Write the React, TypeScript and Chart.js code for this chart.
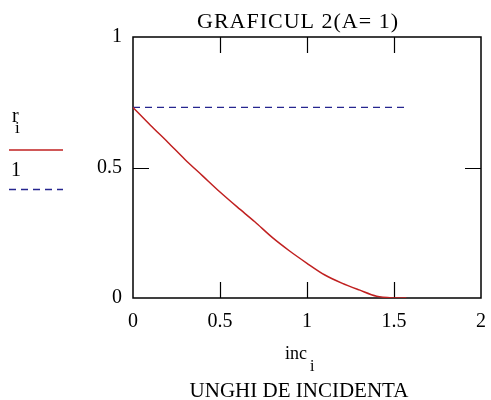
import React, { useEffect, useRef } from "react";
import { Chart, registerables } from "chart.js";

Chart.register(...registerables);

// Angle of incidence (rad) and the reflection coefficient r_i
const incidenceAngles = [0, 0.1, 0.2, 0.3, 0.4, 0.5, 0.6, 0.7, 0.8, 0.9, 1.0, 1.1, 1.2, 1.3, 1.4, 1.5, 1.571];
const reflectance = [0.73, 0.662, 0.597, 0.53, 0.468, 0.406, 0.348, 0.292, 0.232, 0.18, 0.133, 0.089, 0.057, 0.031, 0.007, 0, 0];

// Reference level drawn as the dashed trace "1"
const levelAngles = [0, 1.571];
const levelValues = [0.73, 0.73];

const xTickValues = [0, 0.5, 1, 1.5, 2];
const yTickValues = [0, 0.5, 1];

const TITLE = "GRAFICUL 2(A= 1)";
const X_NAME = "inc";
const X_CAPTION = "UNGHI DE INCIDENTA";
const SERIF = "'Liberation Serif', 'Times New Roman', serif";

const RED = "#c02020";
const BLUE = "#26268f";

const framePlugin = {
  id: "mathcadFrame",
  beforeDatasetsDraw(chart: any) {
    const { ctx, chartArea: a, scales } = chart;
    ctx.save();
    ctx.strokeStyle = "#000";
    ctx.lineWidth = 1.5;
    ctx.strokeRect(a.left, a.top, a.right - a.left, a.bottom - a.top);
    ctx.lineWidth = 1.2;
    const len = 16;
    ctx.beginPath();
    xTickValues.slice(1, -1).forEach((v) => {
      const px = Math.round(scales.x.getPixelForValue(v)) + 0.5;
      ctx.moveTo(px, a.bottom);
      ctx.lineTo(px, a.bottom - len);
      ctx.moveTo(px, a.top);
      ctx.lineTo(px, a.top + len);
    });
    yTickValues.slice(1, -1).forEach((v) => {
      const py = Math.round(scales.y.getPixelForValue(v)) + 0.5;
      ctx.moveTo(a.left, py);
      ctx.lineTo(a.left + len, py);
      ctx.moveTo(a.right, py);
      ctx.lineTo(a.right - len, py);
    });
    ctx.stroke();
    ctx.restore();
  },
  afterDraw(chart: any) {
    const { ctx } = chart;
    const ds = chart.data.datasets;
    ctx.save();
    ctx.fillStyle = "#000";
    ctx.textBaseline = "alphabetic";

    // title
    ctx.font = `22px ${SERIF}`;
    ctx.textAlign = "center";
    (ctx as any).letterSpacing = "1px";
    ctx.fillText(TITLE, 298, 28);
    (ctx as any).letterSpacing = "0px";

    // x axis name with subscript, and caption
    ctx.textAlign = "left";
    ctx.font = `18px ${SERIF}`;
    ctx.fillText(X_NAME, 285, 359);
    ctx.font = `16px ${SERIF}`;
    ctx.fillText("i", 310, 371);
    ctx.textAlign = "center";
    ctx.font = `21px ${SERIF}`;
    ctx.fillText(X_CAPTION, 299, 397);

    // trace legend
    ctx.textAlign = "left";
    ctx.font = `20px ${SERIF}`;
    ctx.fillText("r", 12, 122);
    ctx.font = `17px ${SERIF}`;
    ctx.fillText("i", 15, 133);
    ctx.font = `20px ${SERIF}`;
    ctx.fillText("1", 11, 176);

    ctx.lineWidth = 1.5;
    ctx.strokeStyle = ds[0].borderColor;
    ctx.beginPath();
    ctx.moveTo(9, 150);
    ctx.lineTo(63, 150);
    ctx.stroke();
    ctx.strokeStyle = ds[1].borderColor;
    ctx.setLineDash(ds[1].borderDash);
    ctx.beginPath();
    ctx.moveTo(9, 189.5);
    ctx.lineTo(63, 189.5);
    ctx.stroke();
    ctx.restore();
  },
};

export default function App() {
  const canvasRef = useRef<HTMLCanvasElement | null>(null);

  useEffect(() => {
    const canvas = canvasRef.current;
    if (!canvas) return;
    const tickFont = { family: SERIF, size: 20 };
    const chart = new Chart(canvas, {
      type: "line",
      data: {
        datasets: [
          {
            label: "r_i",
            data: incidenceAngles.map((x, i) => ({ x, y: reflectance[i] })),
            borderColor: RED,
            borderWidth: 1.5,
            pointRadius: 0,
            tension: 0.3,
            fill: false,
          },
          {
            label: "1",
            data: levelAngles.map((x, i) => ({ x, y: levelValues[i] })),
            borderColor: BLUE,
            borderWidth: 1.3,
            borderDash: [7, 5],
            pointRadius: 0,
            fill: false,
          },
        ],
      },
      options: {
        responsive: false,
        animation: false,
        layout: { padding: { left: 0, right: 0, top: 37, bottom: 0 } },
        plugins: {
          legend: { display: false },
          title: { display: false },
          tooltip: { enabled: false },
        },
        scales: {
          x: {
            type: "linear",
            min: 0,
            max: 2,
            afterBuildTicks: (s: any) => {
              s.ticks = xTickValues.map((value) => ({ value }));
            },
            afterFit: (s: any) => {
              s.height = 102;
              s.paddingRight = 10;
            },
            grid: { display: false, drawTicks: false },
            border: { display: false },
            ticks: {
              font: tickFont,
              color: "#000",
              padding: 12,
              maxRotation: 0,
              autoSkip: false,
              callback: (v: any) => String(v),
            },
          },
          y: {
            type: "linear",
            min: 0,
            max: 1,
            afterBuildTicks: (s: any) => {
              s.ticks = yTickValues.map((value) => ({ value }));
            },
            afterFit: (s: any) => {
              s.width = 133;
            },
            grid: { display: false, drawTicks: false },
            border: { display: false },
            ticks: {
              font: tickFont,
              color: "#000",
              padding: 11,
              autoSkip: false,
              callback: (v: any) => String(v),
            },
          },
        },
      },
      plugins: [framePlugin],
    });
    return () => chart.destroy();
  }, []);

  return (
    <div style={{ position: "fixed", left: 0, top: 0, width: 491, height: 400, background: "#fff" }}>
      <canvas ref={canvasRef} width={491} height={400} />
    </div>
  );
}
